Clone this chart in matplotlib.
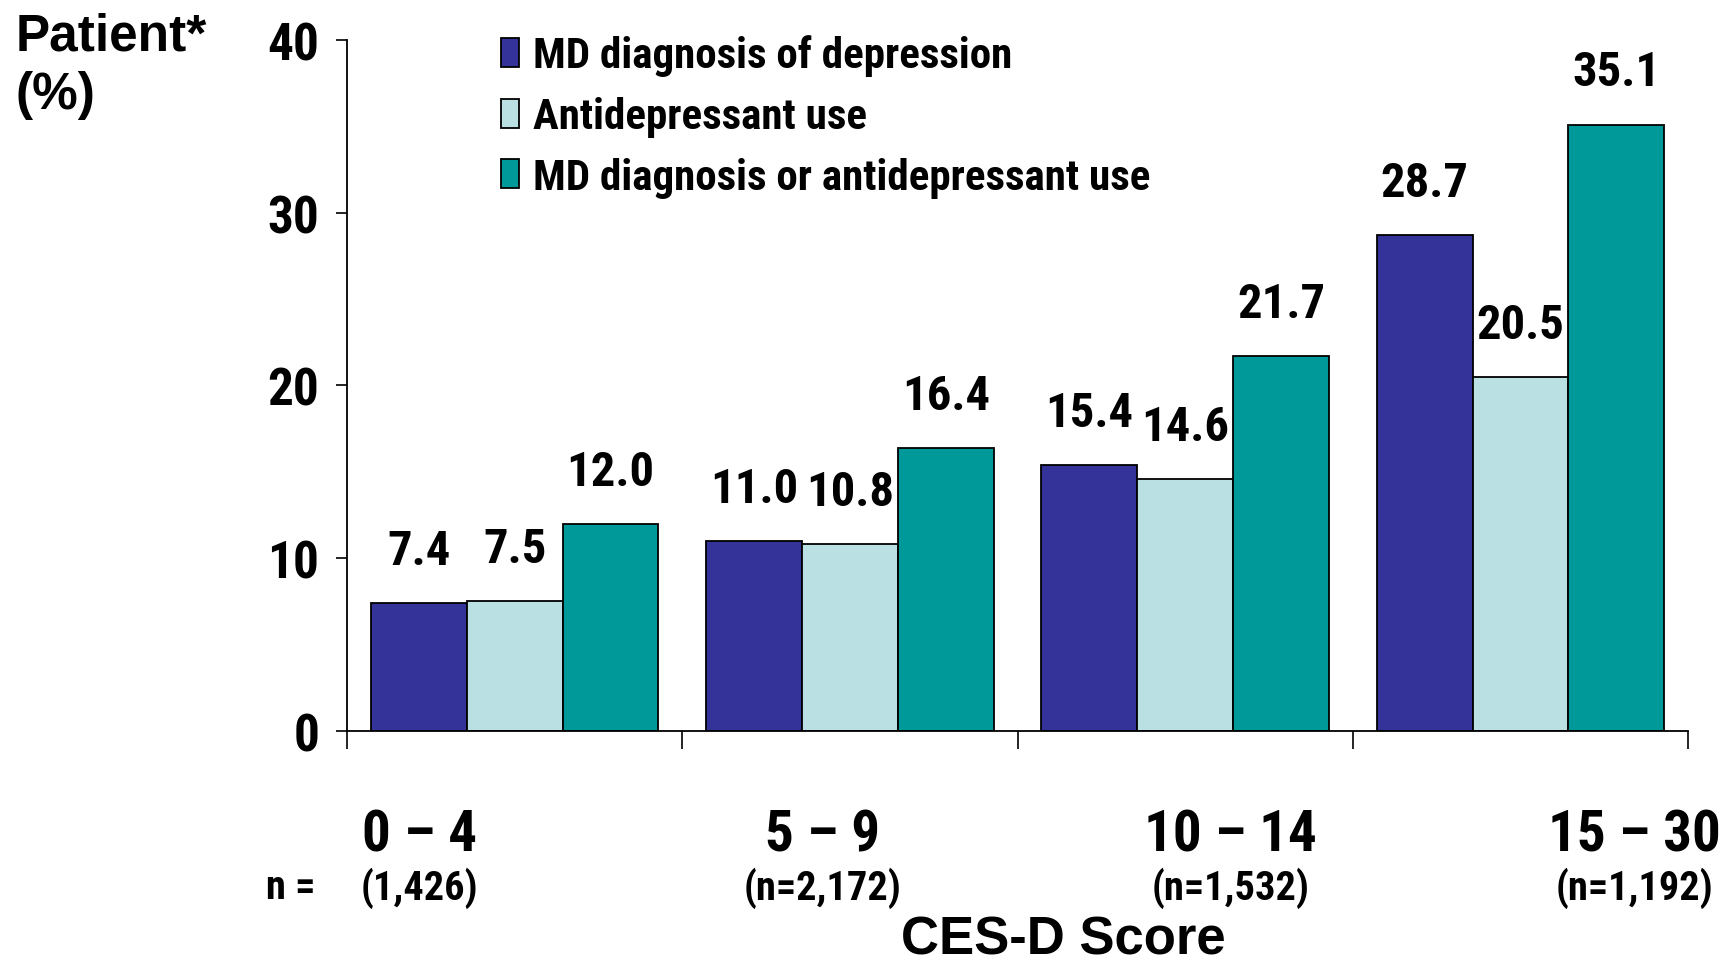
import matplotlib
matplotlib.use("Agg")
import matplotlib.pyplot as plt
import numpy as np

# score bands and group sizes
score_bands = ["0 \u2013 4", "5 \u2013 9", "10 \u2013 14", "15 \u2013 30"]
n_labels = ["(1,426)", "(n=2,172)", "(n=1,532)", "(n=1,192)"]

series_names = ["MD diagnosis of depression",
                "Antidepressant use",
                "MD diagnosis or antidepressant use"]
md_diagnosis = [7.4, 11.0, 15.4, 28.7]
antidepressant = [7.5, 10.8, 14.6, 20.5]
md_or_antidep = [12.0, 16.4, 21.7, 35.1]

colors = ["#333399", "#BBE0E3", "#009999"]

narrow = ["Roboto Condensed", "DejaVu Sans"]
wide = ["Liberation Sans", "DejaVu Sans"]

fig = plt.figure(figsize=(17.28, 9.62), dpi=100)
ax = fig.add_axes([0.2008, 0.2391, 0.7761, 0.7183])

x = np.arange(len(score_bands))
w = 0.286
for i, (vals, c, lab) in enumerate(zip([md_diagnosis, antidepressant, md_or_antidep], colors, series_names)):
    bars = ax.bar(x + (i - 1) * w, vals, w, color=c, edgecolor="black", linewidth=1.3, label=lab)
    for b, v in zip(bars, vals):
        ax.annotate(f"{v:.1f}", (b.get_x() + b.get_width() / 2, v), xytext=(0, 21),
                    textcoords="offset points", ha="center", va="bottom",
                    fontsize=35, fontweight="bold", family=narrow)

ax.set_xlim(-0.5, 3.5)
ax.set_ylim(0, 40)
ax.set_yticks([0, 10, 20, 30, 40])
ax.set_xticks(np.arange(-0.5, 4.0, 1.0))
ax.set_xticklabels([])
ax.tick_params(axis="y", length=8, width=1.2, pad=12)
ax.tick_params(axis="x", length=13, width=1.2)
for t in ax.get_yticklabels():
    t.set_fontsize(37)
    t.set_fontweight("bold")
    t.set_family(narrow)
for s in ["top", "right"]:
    ax.spines[s].set_visible(False)
for s in ["left", "bottom"]:
    ax.spines[s].set_linewidth(1.3)

# category labels sit a bit off the group centres
label_shift = [-0.283, -0.083, 0.136, 0.339]
for xi, band, nl, dx in zip(x, score_bands, n_labels, label_shift):
    ax.text(xi + dx, -0.173, band, transform=ax.get_xaxis_transform(), ha="center", va="baseline",
            fontsize=41, fontweight="bold", family=narrow)
    ax.text(xi + dx, -0.243, nl, transform=ax.get_xaxis_transform(), ha="center", va="baseline",
            fontsize=29, fontweight="bold", family=narrow)
fig.text(0.168, 0.065, "n =", ha="center", va="baseline", fontsize=29, fontweight="bold", family=narrow)

fig.text(0.6154, 0.008, "CES-D Score", ha="center", va="baseline", fontsize=38, fontweight="bold", family=wide)
fig.text(0.009, 0.948, "Patient*", ha="left", va="baseline", fontsize=37, fontweight="bold", family=wide)
fig.text(0.009, 0.887, "(%)", ha="left", va="baseline", fontsize=37, fontweight="bold", family=wide)

leg = ax.legend(loc="upper left", bbox_to_anchor=(0.115, 1.008), frameon=False,
                borderpad=0, borderaxespad=0,
                prop={"family": narrow, "weight": "bold", "size": 31},
                handlelength=0.42, handleheight=0.66, handletextpad=0.32, labelspacing=0.46)
for h in leg.legend_handles:
    h.set_linewidth(1.3)

fig.savefig("out.png", dpi=100)
